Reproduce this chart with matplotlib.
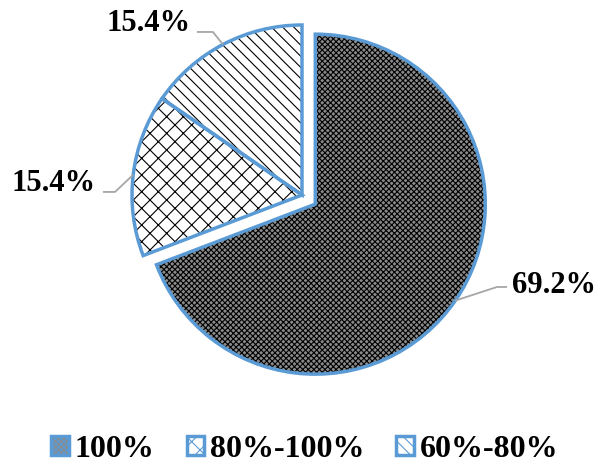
import numpy as np
import matplotlib
matplotlib.use("Agg")
import matplotlib.pyplot as plt
from matplotlib.patches import Patch

categories = ["100%", "80%-100%", "60%-80%"]
values = [69.2, 15.4, 15.4]
labels = ["69.2%", "15.4%", "15.4%"]

plt.rcParams['hatch.linewidth'] = 0.8
fam = ["Liberation Serif", "DejaVu Serif"]

fig = plt.figure(figsize=(6.0, 4.66), dpi=100)
ax = fig.add_axes([0, 0, 1, 1])
R = 170.0
cx, cy = 302.0, 195.0

faces = ["#8a8a8a", "white", "white"]
hatches = ["xxxxxx", "xx", "\\\\\\"]
explode = [0.095, 0, 0]
blue = "#5B9BD5"

w1, _ = ax.pie(values, startangle=90, counterclock=False, explode=explode,
               colors=faces, radius=1, center=(0, 0), frame=True,
               wedgeprops=dict(edgecolor="black", linewidth=0))
for w, h in zip(w1, hatches):
    w.set_hatch(h)
w2, _ = ax.pie(values, startangle=90, counterclock=False, explode=explode,
               colors=["none"] * 3, radius=1, center=(0, 0), frame=True,
               wedgeprops=dict(edgecolor=blue, linewidth=2.5, fill=False))
ax.set_xlim(-cx / R, (600 - cx) / R)
ax.set_ylim(-(466 - cy) / R, cy / R)
ax.set_aspect("equal")
ax.axis("off")

# leader lines: from slice edge at mid-angle to a knee, then horizontal
knees = [(1.147, -0.541), (-1.10, 0.018), (-0.524, 0.959)]
ends = [(1.206, -0.541), (-1.171, 0.018), (-0.618, 0.959)]
text_pos = [(1.235, -0.53), (-1.212, 0.07), (-0.653, 1.006)]
aligns = ["left", "right", "right"]
for i, w in enumerate(w1):
    ang = np.deg2rad((w.theta1 + w.theta2) / 2)
    ox, oy = w.center
    ex, ey = ox + np.cos(ang), oy + np.sin(ang)
    ax.plot([ex, knees[i][0], ends[i][0]], [ey, knees[i][1], ends[i][1]],
            color="#a6a6a6", lw=1.3, zorder=1, solid_capstyle="butt")
    ax.text(text_pos[i][0], text_pos[i][1], labels[i], ha=aligns[i], va="center",
            fontsize=22, color="black", family=fam, weight="bold")

handles = [Patch(facecolor=faces[i], edgecolor=blue, hatch=hatches[i], linewidth=2.5)
           for i in range(3)]
fig.legend(handles, categories, loc="center", bbox_to_anchor=(0.508, 0.036), ncol=3,
           frameon=False, handlelength=0.55, handleheight=0.55, handletextpad=0.18,
           columnspacing=1.0, borderpad=0.2,
           prop=dict(family=fam, weight="bold", size=23))
fig.savefig("out.png", dpi=100, facecolor="white")
